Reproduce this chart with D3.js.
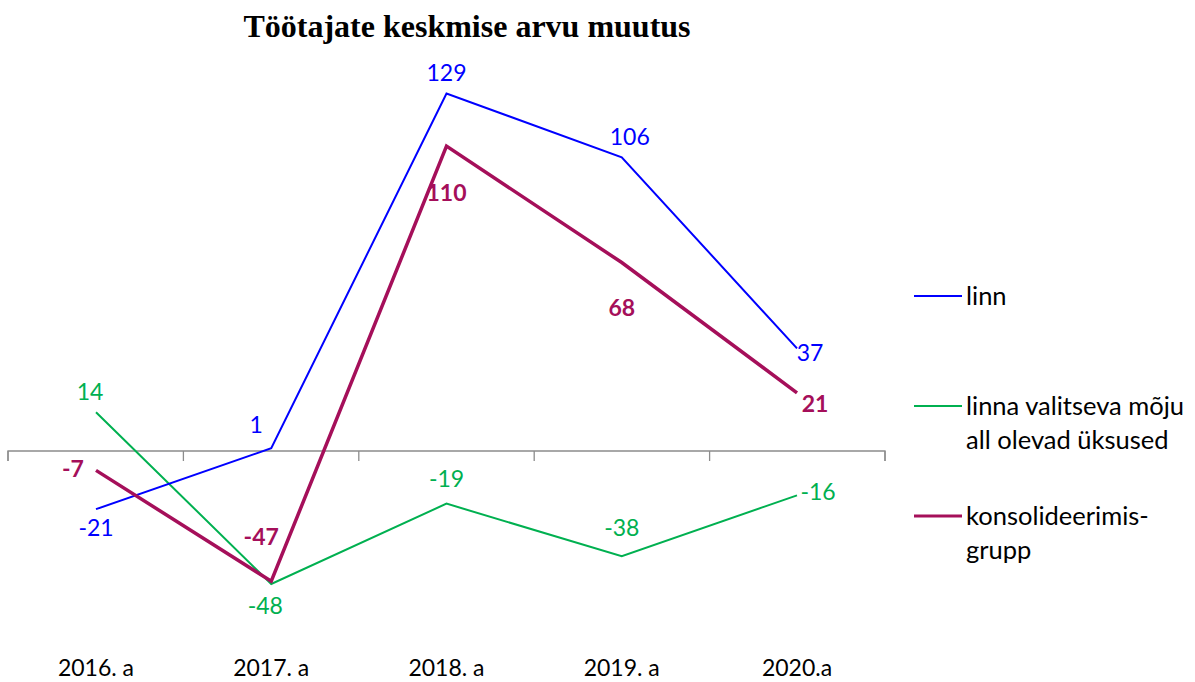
<!DOCTYPE html>
<html><head><meta charset="utf-8">
<script src="https://cdn.jsdelivr.net/npm/d3@7"></script>
<style>
html,body{margin:0;padding:0;background:#fff;}
svg{display:block;}
</style></head>
<body>
<svg id="chart" width="1195" height="682"></svg>
<script>
const title = "Töötajate keskmise arvu muutus";
const categories = ["2016. a", "2017. a", "2018. a", "2019. a", "2020.a"];
const seriesNames = ["linn", "linna valitseva mõju all olevad üksused", "konsolideerimis-grupp"];
const linn = [-21, 1, 129, 106, 37];
const uksused = [14, -48, -19, -38, -16];
const konsolid = [-7, -47, 110, 68, 21];

// label placement (offsets in px relative to point)
const linnOff = [[0, 27], [-15, -15], [0, -13], [8, -12], [13, 13]];
const uksOff = [[-6, -12], [-6, 30], [0, -17], [0, -20], [21, 5]];
const konOff = [[-23, 7], [-10, -36], [0, 55], [0, 53], [18, 19]];

const svg = d3.select("#chart");
const font = "Lato, 'Open Sans', sans-serif";

const x = d3.scalePoint().domain(categories).range([96, 797]);
const xBand = d3.scaleBand().domain(categories).range([8, 885]);
const y = d3.scaleLinear().domain([-48, 129]).range([584, 93.5]);

// title
svg.append("text").attr("x", 467).attr("y", 37).attr("text-anchor", "middle")
  .attr("font-family", "'Liberation Serif','Times New Roman',serif").attr("font-weight", "bold")
  .attr("font-size", 32).text(title);

// axis
const axis = d3.axisBottom(xBand).tickSize(10).tickFormat("");
const gA = svg.append("g").attr("transform", `translate(0,${y(0)})`).call(axis);
gA.select(".domain").attr("stroke", "#8c8c8c").attr("stroke-width", 1.3).attr("d", `M8,10V0H885V10`);
gA.selectAll(".tick").remove();
const edges = categories.map(c => xBand(c)).concat([885]);
gA.selectAll("line.t").data(edges).enter().append("line")
  .attr("x1", d => d).attr("x2", d => d).attr("y1", 0).attr("y2", 10)
  .attr("stroke", "#8c8c8c").attr("stroke-width", 1.3);

// category labels
svg.append("g").selectAll("text").data(categories).enter().append("text")
  .attr("x", d => x(d)).attr("y", 676).attr("text-anchor", "middle")
  .attr("font-family", font).attr("font-size", 23).attr("fill", "#000").text(d => d);

const series = [
  {name: seriesNames[0], vals: linn, color: "#0000ff", w: 2, off: linnOff, bold: false},
  {name: seriesNames[1], vals: uksused, color: "#00b050", w: 2, off: uksOff, bold: false},
  {name: seriesNames[2], vals: konsolid, color: "#a50f5a", w: 3.5, off: konOff, bold: true}
];

const line = d3.line().x((d, i) => x(categories[i])).y(d => y(d));
[series[1], series[0], series[2]].forEach(s => {
  svg.append("path").attr("d", line(s.vals)).attr("fill", "none")
    .attr("stroke", s.color).attr("stroke-width", s.w).attr("stroke-linejoin", "miter");
});
series.forEach(s => {
  svg.append("g").selectAll("text").data(s.vals).enter().append("text")
    .attr("x", (d, i) => x(categories[i]) + s.off[i][0])
    .attr("y", (d, i) => y(d) + s.off[i][1])
    .attr("text-anchor", "middle").attr("font-family", font).attr("font-size", 23)
    .attr("font-weight", s.bold ? "bold" : "normal").attr("fill", s.color).text(d => d);
});

// legend
const legendRows = [
  {s: series[0], y: 296, lines: ["linn"]},
  {s: series[1], y: 406, lines: ["linna valitseva mõju", "all olevad üksused"]},
  {s: series[2], y: 516, lines: ["konsolideerimis-", "grupp"]}
];
legendRows.forEach(r => {
  svg.append("line").attr("x1", 914).attr("x2", 962).attr("y1", r.y).attr("y2", r.y)
    .attr("stroke", r.s.color).attr("stroke-width", r.s.w === 2 ? 2 : 3);
  r.lines.forEach((t, k) => {
    svg.append("text").attr("x", 966).attr("y", r.y + 9 + k * 34)
      .attr("font-family", font).attr("font-size", 25.5).attr("fill", "#000").text(t);
  });
});
</script>
</body></html>
